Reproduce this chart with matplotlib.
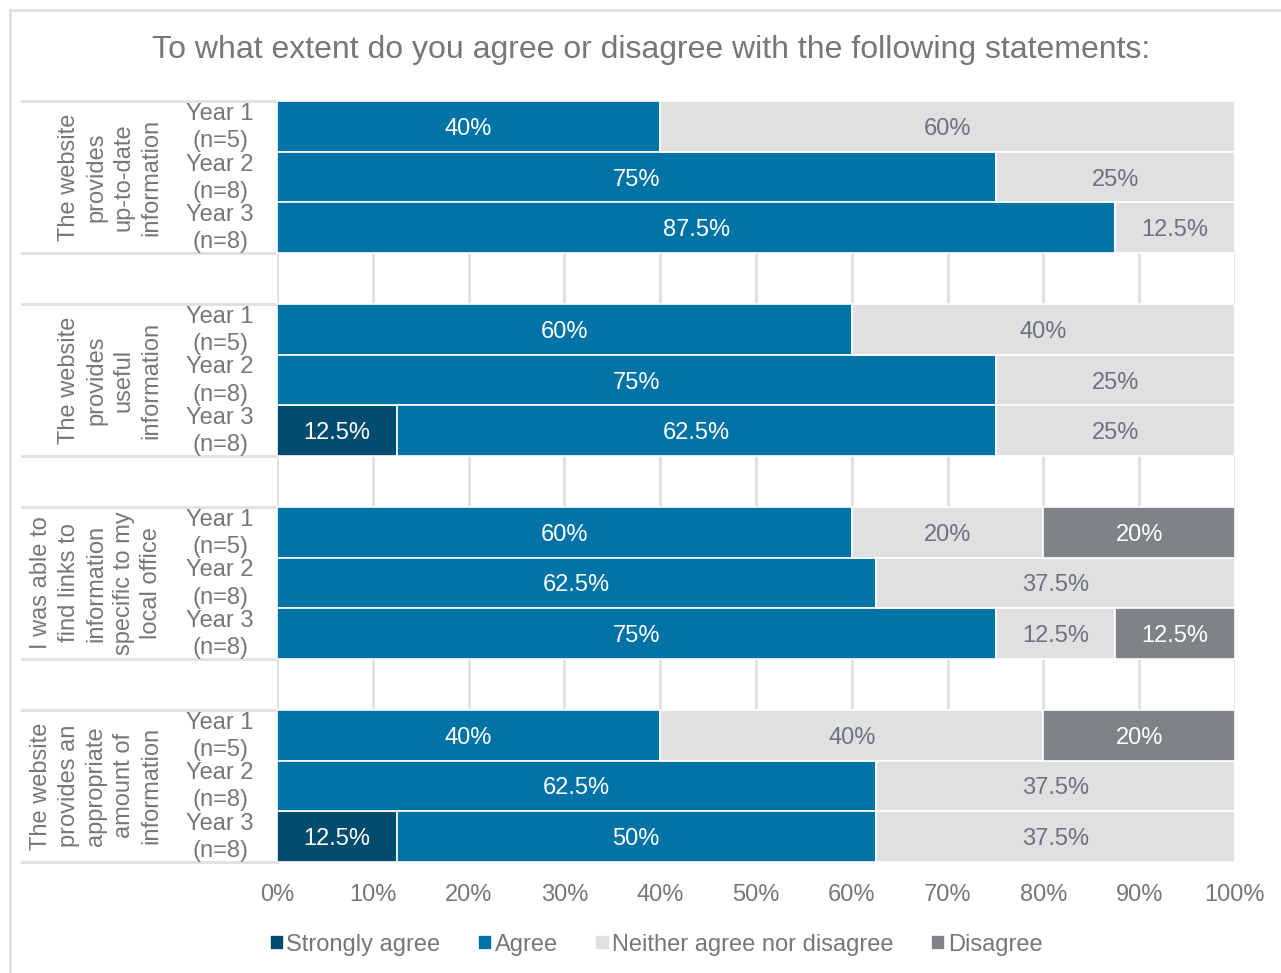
import matplotlib.pyplot as plt
import numpy as np

plt.rcParams['font.family'] = ['Liberation Sans', 'DejaVu Sans']

statements = [
    'The website\nprovides\nup-to-date\ninformation',
    'The website\nprovides\nuseful\ninformation',
    'I was able to\nfind links to\ninformation\nspecific to my\nlocal office',
    'The website\nprovides an\nappropriate\namount of\ninformation',
]
years = ['Year 1\n(n=5)', 'Year 2\n(n=8)', 'Year 3\n(n=8)']
responses = ['Strongly agree', 'Agree', 'Neither agree nor disagree', 'Disagree']

# one row per statement/year, values in percent
strongly_agree = [0, 0, 0, 0, 0, 12.5, 0, 0, 0, 0, 0, 12.5]
agree = [40, 75, 87.5, 60, 75, 62.5, 60, 62.5, 75, 40, 62.5, 50]
neither = [60, 25, 12.5, 40, 25, 25, 20, 37.5, 12.5, 40, 37.5, 37.5]
disagree = [0, 0, 0, 0, 0, 0, 20, 0, 12.5, 20, 0, 0]

colors = ['#004B6E', '#0073A6', '#DFE0E2', '#7F8387']
label_colors = ['white', 'white', '#6F7276', 'white']
text_grey = '#74777B'
grid_grey = '#E0E0E0'

W, H = 1281, 973
fig = plt.figure(figsize=(W / 100, H / 100), dpi=100)

# light frame around the chart area
fig.add_artist(plt.Line2D([10 / W, 10 / W], [0, 1 - 10 / H], color=grid_grey, lw=2))
fig.add_artist(plt.Line2D([10 / W, 1], [1 - 10 / H, 1 - 10 / H], color=grid_grey, lw=2))

ax = fig.add_axes([277 / W, 1 - 862 / H, (1235 - 277) / W, (862 - 101) / H])

# each statement takes 3 rows plus one blank row
rows = np.array([4 * g + i for g in range(len(statements)) for i in range(len(years))])
series = [strongly_agree, agree, neither, disagree]
left = np.zeros(len(rows))
for name, vals, c, lc in zip(responses, series, colors, label_colors):
    vals = np.array(vals, dtype=float)
    bars = ax.barh(rows, vals, left=left, height=1.0, color=c, edgecolor='white',
                   linewidth=1.2, label=name, zorder=3)
    for b, v in zip(bars, vals):
        if v > 0:
            ax.text(b.get_x() + b.get_width() / 2, b.get_y() + b.get_height() / 2,
                    f'{v:g}%', ha='center', va='center_baseline', color=lc,
                    fontsize=17, zorder=4)
    left += vals

ax.set_xlim(0, 100)
ax.set_ylim(4 * len(statements) - 1.5, -0.5)
ax.set_xticks(np.arange(0, 101, 10))
ax.set_xticklabels([f'{t}%' for t in range(0, 101, 10)])
ax.tick_params(axis='x', length=0, pad=16, labelsize=17, labelcolor=text_grey)
ax.set_yticks([])
ax.grid(axis='x', color=grid_grey, lw=2, zorder=0)
for s in ax.spines.values():
    s.set_visible(False)

# category and year labels to the left of the bars
ytr = ax.get_yaxis_transform()
for g, stmt in enumerate(statements):
    top, bottom = 4 * g - 0.5, 4 * g + 2.5
    for yb in (top, bottom):
        ax.plot([(22 - 277) / 958, 0], [yb, yb], transform=ytr, color=grid_grey,
                lw=2, clip_on=False)
    ax.text((162 - 277) / 958, (top + bottom) / 2, stmt, transform=ytr, rotation=90,
            ha='right', va='center', multialignment='center', fontsize=17,
            color=text_grey, linespacing=1.32)
    for i, yr in enumerate(years):
        ax.text((220 - 277) / 958, 4 * g + i + 0.02, yr, transform=ytr, ha='center',
                va='center', fontsize=17, color=text_grey, linespacing=1.3)

fig.text(651 / W, 1 - 50 / H, 'To what extent do you agree or disagree with the following statements:',
         ha='center', va='center', fontsize=23, color=text_grey)

handles, labels = ax.get_legend_handles_labels()
fig.legend(handles, labels, loc='center', bbox_to_anchor=(656 / W, 1 - 945 / H), ncol=4,
           frameon=False, fontsize=17, labelcolor=text_grey, handlelength=0.6,
           handleheight=0.6, handletextpad=0.1, columnspacing=1.6)

fig.savefig('out.png', dpi=100)
